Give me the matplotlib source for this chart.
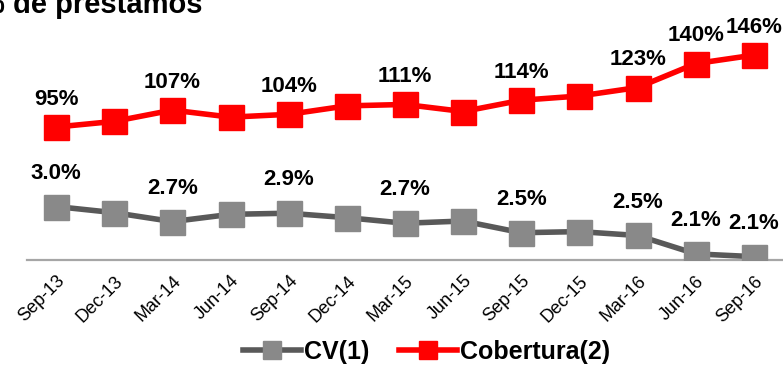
import matplotlib
matplotlib.use('Agg')
import matplotlib.pyplot as plt
from matplotlib.lines import Line2D

plt.rcParams['font.family'] = ['Liberation Sans', 'DejaVu Sans']

quarters = ['Sep-13', 'Dec-13', 'Mar-14', 'Jun-14', 'Sep-14', 'Dec-14', 'Mar-15',
            'Jun-15', 'Sep-15', 'Dec-15', 'Mar-16', 'Jun-16', 'Sep-16']
cv = [3.0, 2.89, 2.73, 2.86, 2.88, 2.8, 2.7, 2.74, 2.53, 2.55, 2.48, 2.15, 2.1]
cobertura = [95, 99, 107, 102, 104, 110, 111, 106, 114, 117, 123, 140, 146]

# points that carry a value label
cv_labels = {0: '3.0%', 2: '2.7%', 4: '2.9%', 6: '2.7%', 8: '2.5%', 10: '2.5%', 11: '2.1%', 12: '2.1%'}
cob_labels = {0: '95%', 2: '107%', 4: '104%', 6: '111%', 8: '114%', 10: '123%', 11: '140%', 12: '146%'}

RED = '#FF0000'
GREY_LINE = '#595959'
GREY_MARK = '#898989'


def draw():
    fig = plt.figure(figsize=(7.83, 3.65), dpi=100)
    ax = fig.add_axes([27 / 783, 105 / 365, 756 / 783, 230 / 365])
    ax2 = ax.twinx()

    x = list(range(len(quarters)))
    ax.plot(x, cv, color=GREY_LINE, lw=4, marker='s', ms=18,
            mfc=GREY_MARK, mec=GREY_MARK, zorder=3)
    ax2.plot(x, cobertura, color=RED, lw=4, marker='s', ms=18,
             mfc=RED, mec=RED, zorder=3)

    ax.set_xlim(-0.5, 12.5)
    ax.set_ylim(2.04, 6.17)
    ax2.set_ylim(0.7, 163.8)

    for i, txt in cv_labels.items():
        ax.annotate(txt, (i, cv[i]), xytext=(0, 24), textcoords='offset points',
                    ha='center', va='center', fontsize=16, fontweight='bold')
    for i, txt in cob_labels.items():
        ax2.annotate(txt, (i, cobertura[i]), xytext=(0, 20), textcoords='offset points',
                     ha='center', va='center', fontsize=16, fontweight='bold')

    for a in (ax, ax2):
        for s in a.spines.values():
            s.set_visible(False)
        a.set_yticks([])
    ax.spines['bottom'].set_visible(True)
    ax.spines['bottom'].set_color('#A6A6A6')
    ax.spines['bottom'].set_linewidth(1.6)

    ax.set_xticks(x)
    ax.set_xticklabels(quarters, rotation=45, ha='right', va='top',
                       rotation_mode='anchor', fontsize=13)
    ax.tick_params(axis='x', length=0, pad=9)

    handles = [
        Line2D([], [], color=GREY_LINE, lw=4, marker='s', ms=13, mfc=GREY_MARK, mec=GREY_MARK),
        Line2D([], [], color=RED, lw=4, marker='s', ms=13, mfc=RED, mec=RED),
    ]
    fig.legend(handles, ['CV(1)', 'Cobertura(2)'], loc='center', bbox_to_anchor=(0.545, 0.035),
               ncol=2, frameon=False, handlelength=2.3, handletextpad=0.12, columnspacing=1.2,
               prop={'size': 18, 'weight': 'bold'})

    fig.text(-21 / 783, 1 - 13 / 365, '% de prestamos', fontsize=21, fontweight='bold',
             ha='left', va='baseline')

    fig.savefig('out.png', dpi=100)


if __name__ == '__main__':
    draw()
